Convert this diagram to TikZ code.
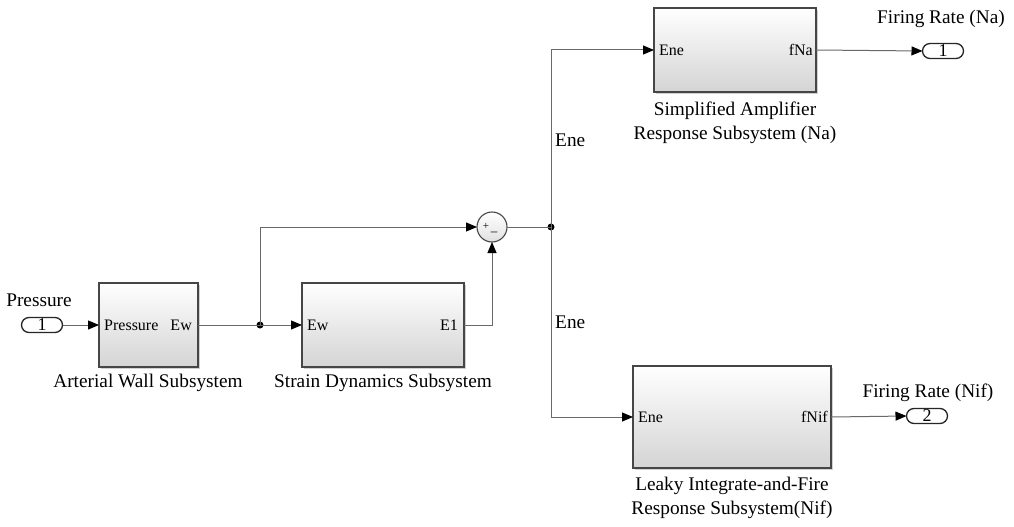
\documentclass[tikz,border=0pt]{standalone}
\usepackage{fontspec}
\setmainfont{Liberation Serif}
\usetikzlibrary{arrows.meta,positioning}

\definecolor{wire}{RGB}{105,105,105}
\definecolor{edge}{RGB}{70,70,70}
\definecolor{shadebot}{RGB}{212,212,212}

\tikzset{
  blk/.style={draw=edge, line width=1.2pt, top color=white, bottom color=shadebot,
              inner sep=0pt, outer sep=0pt},
  blkshadow/.style={fill=black!18, draw=none},
  portlbl/.style={font=\fontsize{16}{18}\selectfont, inner sep=0pt},
  caption/.style={font=\fontsize{19.3}{24}\selectfont, align=center, inner sep=0pt},
  ioport/.style={draw=black!85, line width=1.3pt, fill=white, rounded corners=7.5pt,
                 minimum width=41pt, minimum height=15pt, inner sep=0pt, outer sep=0pt,
                 font=\fontsize{18}{18}\selectfont},
  dot/.style={circle, fill=black, minimum size=7pt, inner sep=0pt},
  wireline/.style={draw=wire, line width=1pt},
  sig/.style={wireline, -{Triangle[length=11pt,width=9pt,black]}},
  sumblk/.style={circle, draw=edge, line width=1.1pt, top color=white, bottom color=black!12,
                 minimum size=30pt, inner sep=0pt, outer sep=0pt},
}

\begin{document}
\begin{tikzpicture}[x=1pt,y=-1pt]
\useasboundingbox (0,0) rectangle (1014,527);

% --- subsystem blocks (soft shadow first) ---
\fill[blkshadow] (101,285) rectangle (200,369);
\fill[blkshadow] (304,285) rectangle (466,369);
\fill[blkshadow] (656,10) rectangle (818,94);
\fill[blkshadow] (635,368) rectangle (833,470);

\node[blk, minimum width=99pt, minimum height=84pt] (aw) at (148.5,325) {};
\node[blk, minimum width=162pt, minimum height=84pt] (sd) at (383,325) {};
\node[blk, minimum width=162pt, minimum height=84pt] (na) at (735,50) {};
\node[blk, minimum width=198pt, minimum height=102pt] (nif) at (732,417) {};

% port names inside the blocks
\node[portlbl, anchor=west] at ([xshift=5pt]aw.west) {Pressure};
\node[portlbl, anchor=east] at ([xshift=-6pt]aw.east) {Ew};
\node[portlbl, anchor=west] at ([xshift=5pt]sd.west) {Ew};
\node[portlbl, anchor=east] at ([xshift=-6pt]sd.east) {E1};
\node[portlbl, anchor=west] at ([xshift=5pt]na.west) {Ene};
\node[portlbl, anchor=east] at ([xshift=-3pt]na.east) {fNa};
\node[portlbl, anchor=west] at ([xshift=5pt]nif.west) {Ene};
\node[portlbl, anchor=east] at ([xshift=-3pt]nif.east) {fNif};

% block captions
\node[caption] (awcap) at (148,383) {Arterial Wall Subsystem};
\node[caption] (sdcap) at (383,383) {Strain Dynamics Subsystem};
\node[caption] (nacap) at (735,123) {Simplified Amplifier\\Response Subsystem (Na)};
\node[caption] (nifcap) at (732,498) {Leaky Integrate-and-Fire\\Response Subsystem(Nif)};

% --- inport / outports ---
\node[ioport] (in1) at (42,325) {1};
\node[caption] (in1cap) at (39,300) {Pressure};
\node[ioport] (out1) at (943,51) {1};
\node[caption] (out1cap) at (941,19) {Firing Rate (Na)};
\node[ioport] (out2) at (927,416) {2};
\node[caption] (out2cap) at (928,393) {Firing Rate (Nif)};

% --- sum block ---
\node[sumblk] (sum) at (492,227) {};
\node[font=\fontsize{11}{11}\selectfont, inner sep=0pt] (plus) at (486,226) {+};
\node[font=\fontsize{13}{13}\selectfont, inner sep=0pt] (minus) at (494,234) {\textendash};

% --- branch points ---
\node[dot] (d1) at (260,325) {};
\node[dot] (d2) at (551,227) {};

% --- signal lines ---
\draw[sig] (in1.east) -- (aw.west);
\draw[wireline] (aw.east) -- (d1.center);
\draw[sig] (d1.center) -- (sd.west);
\draw[sig] (d1.center) |- (sum.west);
\draw[sig] (sd.east) -| (sum.south);
\draw[wireline] (sum.east) -- (d2.center);
\draw[sig] (d2.center) |- (na.west);
\draw[sig] (d2.center) |- (nif.west);
\draw[sig] (na.east) -- (out1.west);
\draw[sig] (nif.east) -- (out2.west);

% signal names on the branch
\node[caption, anchor=west] (ene1) at (555,140) {Ene};
\node[caption, anchor=west] (ene2) at (555,322) {Ene};

\end{tikzpicture}
\end{document}
